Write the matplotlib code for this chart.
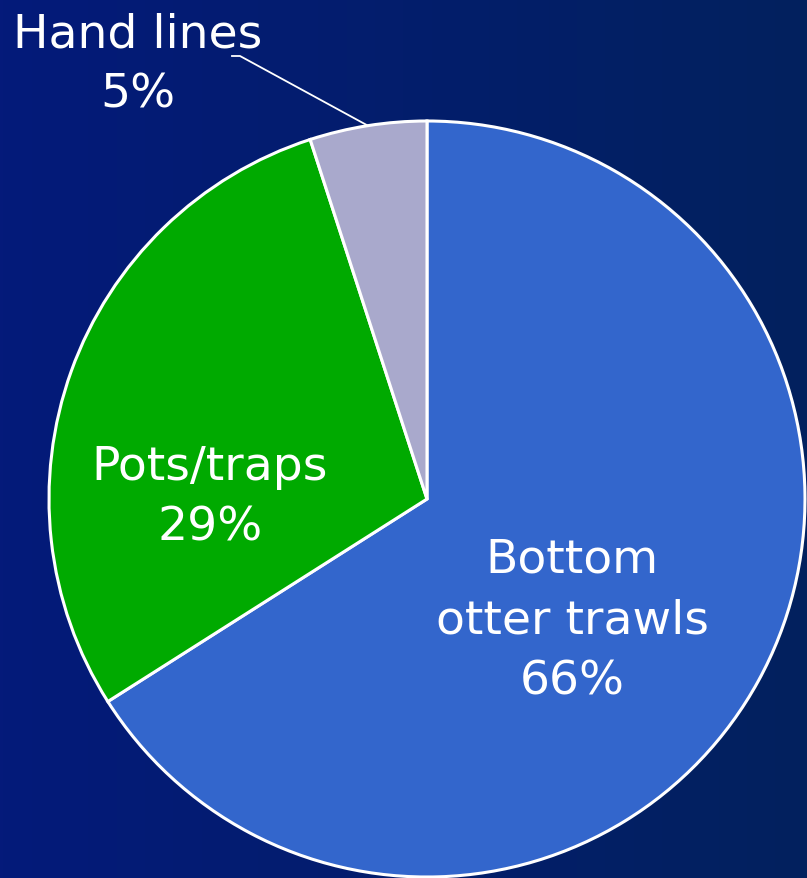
import numpy as np
import matplotlib

matplotlib.use("Agg")
import matplotlib.pyplot as plt

# Share of landings by gear type
gears = ["Bottom\notter trawls", "Pots/traps", "Hand lines"]
shares = [66, 29, 5]
colors = ["#3366CC", "#00AA00", "#A9A9CC"]

W, H = 807, 879
CX, CY, R = 427, H - 500, 378  # pie centre / radius in pixel units (y up)

fig = plt.figure(figsize=(W / 100, H / 100), dpi=100)
ax = fig.add_axes([0, 0, 1, 1])

# horizontal background gradient (dark navy -> slightly greener navy)
left = np.array([0x04, 0x1A, 0x7A]) / 255
right = np.array([0x02, 0x21, 0x5E]) / 255
t = np.linspace(0, 1, 256)[None, :, None]
grad = left * (1 - t) + right * t
ax.imshow(grad, extent=[0, W, 0, H], aspect="auto", zorder=0)

wedges, _ = ax.pie(
    shares,
    colors=colors,
    startangle=90,
    counterclock=False,
    center=(CX, CY),
    radius=R,
    wedgeprops=dict(edgecolor="white", linewidth=2.2),
    frame=True,
)
ax.set_xlim(0, W)
ax.set_ylim(0, H)
ax.set_aspect("equal")
ax.axis("off")

font = dict(color="white", fontsize=34, ha="center", va="center",
            family="DejaVu Sans", linespacing=1.45)
label_pos = [(572, H - 621), (210, H - 498), (138, H - 65)]
for name, pct, (x, y) in zip(gears, shares, label_pos):
    ax.text(x, y, f"{name}\n{pct}%", zorder=5, **font)

# leader line for the small slice
w = wedges[2]
mid = np.deg2rad((w.theta1 + w.theta2) / 2)
ex, ey = CX + R * np.cos(mid), CY + R * np.sin(mid)
ax.plot([232, 240, ex], [H - 57, H - 57, ey], color="white", lw=1.3, zorder=4)

fig.savefig("out.png", dpi=100)
